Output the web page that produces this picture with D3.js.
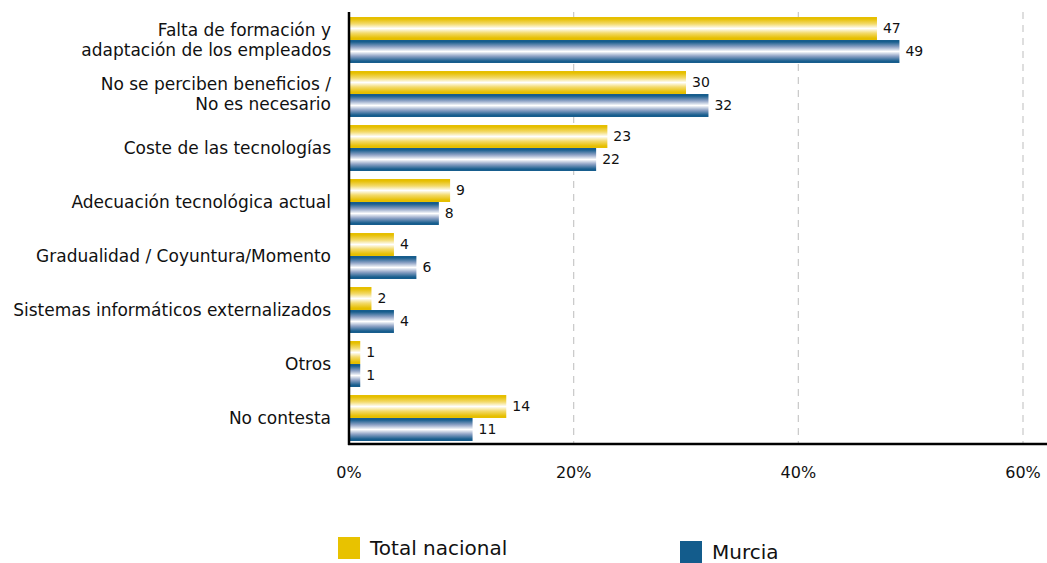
<!DOCTYPE html>
<html>
<head>
<meta charset="utf-8">
<script src="https://cdn.jsdelivr.net/npm/d3@7"></script>
<style>
  body { margin: 0; background: #fff; }
  svg text { font-family: "DejaVu Sans", sans-serif; fill: #111; }
</style>
</head>
<body>
<svg width="1047" height="563"></svg>
<script>
var categories = [
  ["Falta de formación y", "adaptación de los empleados"],
  ["No se perciben beneficios /", "No es necesario"],
  ["Coste de las tecnologías"],
  ["Adecuación tecnológica actual"],
  ["Gradualidad / Coyuntura/Momento"],
  ["Sistemas informáticos externalizados"],
  ["Otros"],
  ["No contesta"]
];
var totalNacional = [47, 30, 23, 9, 4, 2, 1, 14];
var murcia = [49, 32, 22, 8, 6, 4, 1, 11];
var xTicks = [0, 20, 40, 60];
var seriesNames = ["Total nacional", "Murcia"];

var svg = d3.select("svg"),
    margin = {top: 12, left: 349},
    plotBottom = 444;

var x = d3.scaleLinear().domain([0, 60]).range([margin.left, 1023]);
// 54px per group, 46px of bars, 8px gap
var y = d3.scaleBand().domain(d3.range(categories.length))
    .range([17, 17 + 54 * categories.length - 8]).paddingInner(8 / 54).paddingOuter(0);
var ySub = d3.scaleBand().domain([0, 1]).range([0, y.bandwidth()]);

var defs = svg.append("defs");
function gradient(id, edge, mid) {
  var g = defs.append("linearGradient").attr("id", id)
      .attr("x1", 0).attr("y1", 0).attr("x2", 0).attr("y2", 1);
  [[0, edge], [0.08, edge], [0.3, mid], [0.5, "#ffffff"], [0.7, mid], [0.92, edge], [1, edge]].forEach(function(s) {
    g.append("stop").attr("offset", s[0]).attr("stop-color", s[1]);
  });
}
gradient("gY", "#e6bf00", "#f3da6a");
gradient("gB", "#175d8d", "#8fa3c6");

// grid lines
svg.append("g").selectAll("line")
  .data(xTicks.slice(1))
  .enter().append("line")
    .attr("x1", function(d) { return x(d); })
    .attr("x2", function(d) { return x(d); })
    .attr("y1", margin.top)
    .attr("y2", plotBottom)
    .attr("stroke", "#c8c8c8")
    .attr("stroke-width", 1.2)
    .attr("stroke-dasharray", "7,6");

var series = [totalNacional, murcia];
var fills = ["url(#gY)", "url(#gB)"];

series.forEach(function(vals, s) {
  var g = svg.append("g");
  g.selectAll("rect")
    .data(vals)
    .enter().append("rect")
      .attr("x", x(0))
      .attr("y", function(d, i) { return y(i) + ySub(s); })
      .attr("width", function(d) { return x(d) - x(0); })
      .attr("height", ySub.bandwidth())
      .attr("fill", fills[s]);
  g.selectAll("text")
    .data(vals)
    .enter().append("text")
      .attr("x", function(d) { return x(d) + 6; })
      .attr("y", function(d, i) { return y(i) + ySub(s) + ySub.bandwidth() / 2; })
      .attr("dy", "0.35em")
      .attr("font-size", 14)
      .text(function(d) { return d; });
});

// category labels
var lab = svg.append("g").selectAll("text")
  .data(categories)
  .enter().append("text")
    .attr("text-anchor", "end")
    .attr("font-size", 17)
    .attr("y", function(d, i) { return y(i) + y.bandwidth() / 2; });
lab.selectAll("tspan")
  .data(function(d) { return d.map(function(t, j) { return {t: t, j: j, n: d.length}; }); })
  .enter().append("tspan")
    .attr("x", 331)
    .attr("dy", function(d) { return d.j == 0 ? (0.35 - (d.n - 1) * 0.59) + "em" : "1.18em"; })
    .text(function(d) { return d.t; });

// axes lines
svg.append("line").attr("x1", margin.left).attr("x2", margin.left)
  .attr("y1", margin.top).attr("y2", plotBottom + 1)
  .attr("stroke", "#000").attr("stroke-width", 2.5);
svg.append("line").attr("x1", margin.left - 1).attr("x2", 1047)
  .attr("y1", plotBottom).attr("y2", plotBottom)
  .attr("stroke", "#000").attr("stroke-width", 2.5);

// tick labels
svg.append("g").selectAll("text")
  .data(xTicks)
  .enter().append("text")
    .attr("x", function(d) { return x(d); })
    .attr("y", 478)
    .attr("text-anchor", "middle")
    .attr("font-size", 16)
    .text(function(d) { return d + "%"; });

// legend
var legendPos = [[338, 537], [680, 541]];
var legendCol = ["#e8c200", "#135c8c"];
seriesNames.forEach(function(n, i) {
  svg.append("rect").attr("x", legendPos[i][0]).attr("y", legendPos[i][1])
    .attr("width", 22).attr("height", 22).attr("fill", legendCol[i]);
  svg.append("text").attr("x", legendPos[i][0] + 32).attr("y", legendPos[i][1] + 18)
    .attr("font-size", 20).text(n);
});
</script>
</body>
</html>
